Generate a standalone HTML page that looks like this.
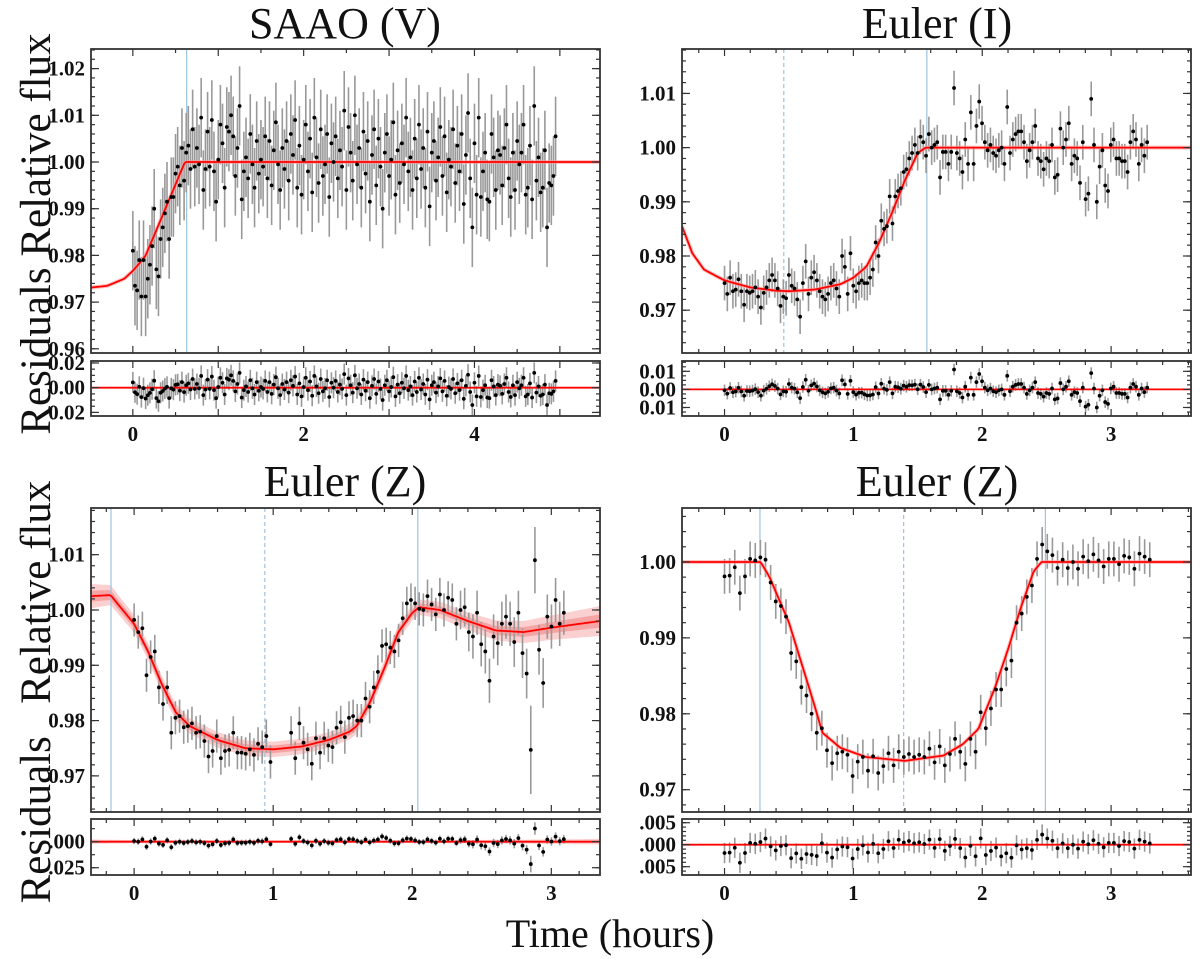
<!DOCTYPE html>
<html><head><meta charset="utf-8"><style>
html,body{margin:0;padding:0;background:#fff;}
svg{display:block;}
text{font-family:"Liberation Serif",serif;fill:#111;}
.tk{font-size:21px;font-weight:bold;}
.ttl{font-size:44px;}
.lab{font-size:43px;}
.xl{font-size:40px;}
</style></head><body>
<svg id="fig" width="1200" height="959" viewBox="0 0 1200 959" xmlns="http://www.w3.org/2000/svg">
<text class="ttl" x="345" y="38" text-anchor="middle">SAAO (V)</text>
<text class="ttl" x="937" y="38" text-anchor="middle">Euler (I)</text>
<text class="ttl" x="345" y="496" text-anchor="middle">Euler (Z)</text>
<text class="ttl" x="937" y="496" text-anchor="middle">Euler (Z)</text>
<text class="lab" transform="translate(50,234) rotate(-90)" text-anchor="middle">Residuals Relative flux</text>
<text class="lab" transform="translate(50,692) rotate(-90)" text-anchor="middle" xml:space="preserve">Residuals   Relative flux</text>
<text class="xl" x="610" y="947" text-anchor="middle">Time (hours)</text>
</svg>
<script>
// ---------- DATA (flux offsets in units of 1e-4 relative to 1.0) ----------
// SAAO (V)
const saaoTEnd = 4.95;
const saaoFlux = [-190,-265,-275,-210,-288,-210,-288,-250,-220,-180,-100,-230,-245,-165,-140,-110,-85,-165,-75,-75,-25,-10,-50,30,-40,
20,35,-15,70,-10,30,-5,95,-60,-15,65,-10,90,-20,-85,5,80,40,-55,75,65,100,55,-30,30,120,-80,-20,10,-35,60,-5,-55,45,-25,5,-10,55,-35,45,-50,25,85,-5,-60,30,-15,45,-40,60,15,90,-55,35,-70,5,80,-20,50,-65,95,10,-45,70,-30,-5,60,-75,40,0,55,-35,25,-10,110,-60,75,20,-40,100,-5,30,-55,65,-25,45,-85,15,70,-50,50,-10,-100,20,60,-30,5,85,-70,25,-45,40,-5,95,-20,10,-60,50,-35,80,-15,30,-55,65,-95,20,45,-40,10,75,-30,55,-65,5,-10,70,-45,35,-20,60,-90,15,105,-35,-140,40,-70,95,-75,-20,20,-80,-85,60,10,-60,25,15,-50,30,80,-35,-75,20,-60,45,-5,20,80,-70,-55,35,-80,120,-40,10,-65,-55,25,-140,-45,-50,-30,55];
const saaoErr = 85;
const saaoModelT = [-0.49,-0.3,-0.1,0,0.1,0.15,0.3,0.45,0.61,5.47];
const saaoModelF = [-269,-265,-250,-233,-212,-200,-135,-70,0,0];
const saaoLines = [0.63];
const saaoDashed = [];

// Euler (I)
const eiTEnd = 3.28;
const eiFlux = [-250,-270,-240,-265,-262,-243,-265,-290,-265,-268,-265,-258,-275,-295,-268,-258,-245,-235,-245,-260,-292,-275,-278,-235,-255,-260,-280,-312,-250,-210,-270,-240,-230,-245,-265,-275,-280,-270,-250,-245,-260,-275,-200,-220,-270,-195,-255,-265,-250,-245,
-250,-250,-240,-225,-175,-200,-135,-150,-145,-90,-140,-90,-80,-75,-45,-40,-20,-10,5,-10,20,10,-15,25,0,
5,10,-55,-8,-8,-30,-8,110,-10,-20,-45,15,-30,65,-30,40,85,45,10,-5,5,-10,-15,-5,0,-30,75,-10,15,25,30,30,10,-25,-5,10,40,-20,-25,-40,-20,-25,5,-55,-50,35,0,15,45,-30,-15,-20,-65,10,-95,-85,90,5,-100,-35,-5,-70,-80,5,15,-20,-20,-25,-25,-45,10,30,15,-30,5,-15,10];
const eiErr = 32;
const eiModelT = [-0.33,-0.25,-0.16,0,0.2,0.4,0.5,0.7,0.9,1.0,1.1,1.2,1.3,1.4,1.5,1.56,3.62];
const eiModelF = [-145,-195,-225,-245,-258,-264,-265,-262,-252,-240,-220,-175,-120,-60,-10,0,0];
const eiLines = [1.57];
const eiDashed = [0.46];

// Euler (Z) left
const ezaTEnd = 3.09;
const ezaFlux = [-18,-40,-33,-118,-85,-75,-140,-170,-140,-222,-195,-192,-212,-210,-205,-222,-220,-237,-265,-255,-228,-268,-255,-253,-222,-258,-258,-260,-252,-262,-242,-248,-228,-275,null,null,null,null,-222,-268,-205,-240,-252,-278,-232,-258,-232,-245,-248,-213,-203,-230,-195,-192,-200,-200,-160,-175,-140,-112,-65,-62,-68,-75,-55,-15,12,18,12,2,0,25,10,-8,28,0,22,18,-25,0,5,-40,-48,-5,-62,-75,-128,-48,-60,-25,-12,-25,-58,-5,-78,-115,-253,90,-72,-132,-12,-30,18,-25,-5];
const ezaErrs = [30,30,30,30,30,30,30,30,30,30,30,30,30,30,30,30,30,30,30,30,30,30,30,30,30,30,30,30,30,30,30,30,30,30,30,30,30,30,30,30,30,30,30,30,30,30,30,30,30,30,30,30,30,30,30,30,30,30,30,30,30,30,30,30,30,30,30,30,30,30,30,30,30,30,30,30,30,30,30,35,35,35,40,40,40,40,40,40,40,40,40,40,45,40,45,45,80,60,45,45,40,40,40,40,40];
const ezaModelT = [-0.31,-0.17,0,0.1,0.2,0.3,0.4,0.6,0.8,1.0,1.2,1.4,1.55,1.6,1.7,1.8,1.9,2.0,2.05,2.2,2.4,2.6,2.8,3.0,3.35];
const ezaModelF = [25,27,-25,-75,-135,-185,-210,-235,-250,-252,-247,-235,-220,-210,-165,-105,-40,-5,5,0,-20,-37,-40,-32,-20];
const ezaBandInner = [10,9,8,8,8,8,7,7,7,7,7,7,7,7,7,7,7,7,7,7,7,8,9,10,12];
const ezaBandOuter = [22,18,16,15,15,15,14,14,14,14,14,14,14,14,14,14,14,14,14,15,16,18,20,22,27];
const ezaLines = [-0.166, 2.04];
const ezaDashed = [0.94];

// Euler (Z) right
const ezbTEnd = 3.3;
const ezbFlux = [-19,-18,-7,-41,-19,4,2,6,3,-27,-52,-58,-72,-120,-131,-165,-176,-200,-225,-219,-248,-265,-252,-250,-254,-282,-263,-257,-275,-256,-278,-269,-252,-268,-250,-257,-253,-257,-254,-257,-246,-264,-243,-268,-253,-233,-250,-266,-233,-250,-198,-219,-193,-168,-168,-141,-130,-80,-68,-46,-31,4,23,14,9,-8,3,-8,0,-9,7,1,10,2,-6,4,4,-3,8,6,-9,11,7,3];
const ezbErr = 23;
const ezbModelT = [-0.33,0.28,0.35,0.5,0.6,0.7,0.76,0.9,1.1,1.4,1.7,1.85,1.97,2.1,2.2,2.3,2.4,2.46,3.62];
const ezbModelF = [0,0,-20,-80,-135,-190,-225,-245,-257,-262,-255,-240,-220,-165,-115,-60,-12,0,0];
const ezbLines = [0.275, 2.49];
const ezbDashed = [1.39];

// tick labels
const saaoYTicks = [0.96,0.97,0.98,0.99,1.00,1.01,1.02];
const saaoYLabels = ["0.96","0.97","0.98","0.99","1.00","1.01","1.02"];
const saaoRTicks = [0.02,0,-0.02];
const saaoRLabels = ["0.02","0.00","0.02"];
const saaoXLabels = [0,2,4];
const eiYTicks = [0.97,0.98,0.99,1.00,1.01];
const eiYLabels = ["0.97","0.98","0.99","1.00","1.01"];
const eiRTicks = [0.01,0,-0.01];
const eiRLabels = ["0.01","0.00","0.01"];
const ezYTicksA = [0.97,0.98,0.99,1.00,1.01];
const ezYLabelsA = ["0.97","0.98","0.99","1.00","1.01"];
const ezaRTicks = [0,-0.025];
const ezaRLabels = [".000",".025"];
const ezYTicksB = [0.97,0.98,0.99,1.00];
const ezYLabelsB = ["0.97","0.98","0.99","1.00"];
const ezbRTicks = [0.005,0,-0.005];
const ezbRLabels = [".005",".000",".005"];
const intXLabels = [0,1,2,3];

// ---------- DRAWING ----------
const NS = "http://www.w3.org/2000/svg";
const svg = document.getElementById('fig');
function mk(tag, attrs, parent){
  const e = document.createElementNS(NS, tag);
  for (const k in attrs) e.setAttribute(k, attrs[k]);
  (parent||svg).appendChild(e);
  return e;
}
function interp(ts, fs, t){
  if (t <= ts[0]) return fs[0];
  for (let i=1;i<ts.length;i++){
    if (t <= ts[i]){ const a=(t-ts[i-1])/(ts[i]-ts[i-1]); return fs[i-1]+a*(fs[i]-fs[i-1]); }
  }
  return fs[fs.length-1];
}
let clipN = 0;
function drawPanel(c){
  const sx = t => c.L + (t-c.x0)/(c.x1-c.x0)*(c.R-c.L);
  const sy = f => c.T + (c.y1-f)/(c.y1-c.y0)*(c.B-c.T);
  const sr = r => c.rT + (c.r1-r)/(c.r1-c.r0)*(c.rB-c.rT);
  const g = mk('g', {});
  
  
  const cid1 = 'c' + (clipN++), cid2 = 'c' + (clipN++);
  const cp1 = mk('clipPath', {id: cid1}, g); mk('rect', {x:c.L, y:c.T, width:c.R-c.L, height:c.B-c.T}, cp1);
  const cp2 = mk('clipPath', {id: cid2}, g); mk('rect', {x:c.L, y:c.rT, width:c.R-c.L, height:c.rB-c.rT}, cp2);
  const main = mk('g', {'clip-path':'url(#'+cid1+')'}, g);
  const res = mk('g', {'clip-path':'url(#'+cid2+')'}, g);
  const N = 300, samp = [];
  for (let i=0;i<=N;i++){ const t = c.x0 + (c.x1-c.x0)*i/N; samp.push(t); }
  if (c.bandOuter){
    [[c.bandOuter,'#fbd0d0'],[c.bandInner,'#f6a5a5']].forEach(([bw,col],bi)=>{
      let up='', dn='', ru='', rd='';
      samp.forEach((t,i)=>{
        const m = interp(c.mt,c.mf,t)*1e-4 + 1, w = interp(c.mt,bw,t)*1e-4;
        up += (i?'L':'M') + sx(t).toFixed(1) + ',' + sy(m+w).toFixed(1);
        ru += (i?'L':'M') + sx(t).toFixed(1) + ',' + sr(w).toFixed(1);
      });
      for (let i=samp.length-1;i>=0;i--){
        const t = samp[i], m = interp(c.mt,c.mf,t)*1e-4 + 1, w = interp(c.mt,bw,t)*1e-4;
        dn += 'L' + sx(t).toFixed(1) + ',' + sy(m-w).toFixed(1);
        rd += 'L' + sx(t).toFixed(1) + ',' + sr(-w).toFixed(1);
      }
      const b = mk('path', {d: up+dn+'Z', fill: col}, main);
      
      
      const b2 = mk('path', {d: ru+rd+'Z', fill: col}, res);
      
      
    });
  }
  c.lines.forEach(t=>{
    const l = mk('line', {x1:sx(t), x2:sx(t), y1:c.T, y2:c.B, stroke:'#9cc3e0', 'stroke-width':1.2}, main);
    
    
  });
  c.dashed.forEach(t=>{
    const l = mk('line', {x1:sx(t), x2:sx(t), y1:c.T, y2:c.B, stroke:'#9cc3e0', 'stroke-width':1.2, 'stroke-dasharray':'4,3'}, main);
    
    
  });
  const n = c.flux.length, dt = c.tEnd/(n-1);
  for (let i=0;i<n;i++){
    if (c.flux[i] === null) continue;
    const t = i*dt, f = 1 + c.flux[i]*1e-4;
    const e = (c.errs ? c.errs[i] : c.err)*1e-4;
    const r = f - (1 + interp(c.mt,c.mf,t)*1e-4);
    const eb = mk('line', {x1:sx(t), x2:sx(t), y1:sy(f-e), y2:sy(f+e), stroke:'#999', 'stroke-width':1.6}, main);
    
    
    const eb2 = mk('line', {x1:sx(t), x2:sx(t), y1:sr(r-e), y2:sr(r+e), stroke:'#999', 'stroke-width':1.6}, res);
    
    
  }
  let d = '';
  samp.forEach((t,i)=>{ d += (i?'L':'M') + sx(t).toFixed(1) + ',' + sy(1+interp(c.mt,c.mf,t)*1e-4).toFixed(1); });
  const glow = mk('path', {d:d, fill:'none', stroke:'#ff9a9a', 'stroke-width':4, opacity:0.6, 'stroke-linejoin':'round'}, main);
  
  
  const ml = mk('path', {d:d, fill:'none', stroke:'#f00', 'stroke-width':1.8, 'stroke-linejoin':'round'}, main);
  
  
  const zl = mk('line', {x1:c.L, x2:c.R, y1:sr(0), y2:sr(0), stroke:'#f00', 'stroke-width':1.8}, res);
  
  
  for (let i=0;i<n;i++){
    if (c.flux[i] === null) continue;
    const t = i*dt, f = 1 + c.flux[i]*1e-4;
    const r = f - (1 + interp(c.mt,c.mf,t)*1e-4);
    const p = mk('circle', {cx:sx(t), cy:sy(f), r:1.9, fill:'#000'}, main);
    
    
    const p2 = mk('circle', {cx:sx(t), cy:sr(r), r:1.9, fill:'#000'}, res);
    
    
  }
  [[c.T,c.B,'main-frame'],[c.rT,c.rB,'residual-frame']].forEach(([a,b,nm])=>{
    const fr = mk('rect', {x:c.L, y:a, width:c.R-c.L, height:b-a, fill:'none', stroke:'#333', 'stroke-width':1.8}, g);
    
    
  });
  const tk = (x1,y1,x2,y2)=>mk('line',{x1:x1,y1:y1,x2:x2,y2:y2,stroke:'#333','stroke-width':1.2},g);
  const xs = Math.ceil(c.x0/c.xMinor - 1e-9);
  for (let k=xs; k*c.xMinor<=c.x1+1e-9; k++){
    const t = k*c.xMinor, X = sx(t);
    const maj = Math.abs(t/c.xMajor - Math.round(t/c.xMajor)) < 1e-6;
    const len = maj ? 7 : 4;
    [[c.T,1],[c.B,-1],[c.rT,1],[c.rB,-1]].forEach(([y,s])=>tk(X,y,X,y+s*len));
  }
  c.xLabels.forEach(v=>{
    const tl = mk('text', {x:sx(v), y:c.rB+25, class:'tk', 'text-anchor':'middle'}, g);
    tl.textContent = String(v);
    
    
  });
  for (let k=Math.ceil(c.y0/0.002); k*0.002<=c.y1; k++){
    const Y = sy(k*0.002); tk(c.L,Y,c.L+4,Y); tk(c.R,Y,c.R-4,Y);
  }
  c.yTicks.forEach((v,i)=>{
    const Y = sy(v); tk(c.L,Y,c.L+8,Y); tk(c.R,Y,c.R-8,Y);
    const tl = mk('text', {x:c.L-6, y:Y+7, class:'tk', 'text-anchor':'end'}, g);
    tl.textContent = c.yLabels[i];
    
    
  });
  for (let k=Math.ceil(c.r0/c.rMinor); k*c.rMinor<=c.r1; k++){
    const Y = sr(k*c.rMinor); tk(c.L,Y,c.L+4,Y); tk(c.R,Y,c.R-4,Y);
  }
  c.rTicks.forEach((v,i)=>{
    const Y = sr(v); tk(c.L,Y,c.L+8,Y); tk(c.R,Y,c.R-8,Y);
    const tl = mk('text', {x:c.L-6, y:Y+7, class:'tk', 'text-anchor':'end'}, g);
    tl.textContent = c.rLabels[i];
    
    
  });
}
drawPanel({name:'saao-v', L:91,R:600,T:49,B:353,rT:361,rB:416, x0:-0.49,x1:5.47, y0:0.9591,y1:1.0242, r0:-0.0229,r1:0.0216,
  xMinor:0.5,xMajor:1, xLabels:saaoXLabels, yTicks:saaoYTicks,yLabels:saaoYLabels, rTicks:saaoRTicks,rLabels:saaoRLabels,rMinor:0.005,
  flux:saaoFlux, tEnd:saaoTEnd, err:saaoErr, mt:saaoModelT, mf:saaoModelF, lines:saaoLines, dashed:saaoDashed});
drawPanel({name:'euler-i', L:682,R:1191,T:49,B:353,rT:361,rB:416, x0:-0.33,x1:3.62, y0:0.9621,y1:1.0182, r0:-0.0147,r1:0.0157,
  xMinor:0.2,xMajor:1, xLabels:intXLabels, yTicks:eiYTicks,yLabels:eiYLabels, rTicks:eiRTicks,rLabels:eiRLabels,rMinor:0.0025,
  flux:eiFlux, tEnd:eiTEnd, err:eiErr, mt:eiModelT, mf:eiModelF, lines:eiLines, dashed:eiDashed});
drawPanel({name:'euler-z-left', L:91,R:600,T:508,B:812,rT:819,rB:875, x0:-0.31,x1:3.35, y0:0.96347,y1:1.01844, r0:-0.032,r1:0.0218,
  xMinor:0.2,xMajor:1, xLabels:intXLabels, yTicks:ezYTicksA,yLabels:ezYLabelsA, rTicks:ezaRTicks,rLabels:ezaRLabels,rMinor:0.0125,
  flux:ezaFlux, tEnd:ezaTEnd, errs:ezaErrs, mt:ezaModelT, mf:ezaModelF, bandInner:ezaBandInner, bandOuter:ezaBandOuter, lines:ezaLines, dashed:ezaDashed});
drawPanel({name:'euler-z-right', L:682,R:1191,T:508,B:812,rT:819,rB:875, x0:-0.33,x1:3.62, y0:0.96706,y1:1.00711, r0:-0.00689,r1:0.00584,
  xMinor:0.2,xMajor:1, xLabels:intXLabels, yTicks:ezYTicksB,yLabels:ezYLabelsB, rTicks:ezbRTicks,rLabels:ezbRLabels,rMinor:0.001,
  flux:ezbFlux, tEnd:ezbTEnd, err:ezbErr, mt:ezbModelT, mf:ezbModelF, lines:ezbLines, dashed:ezbDashed});
</script>
</body></html>
